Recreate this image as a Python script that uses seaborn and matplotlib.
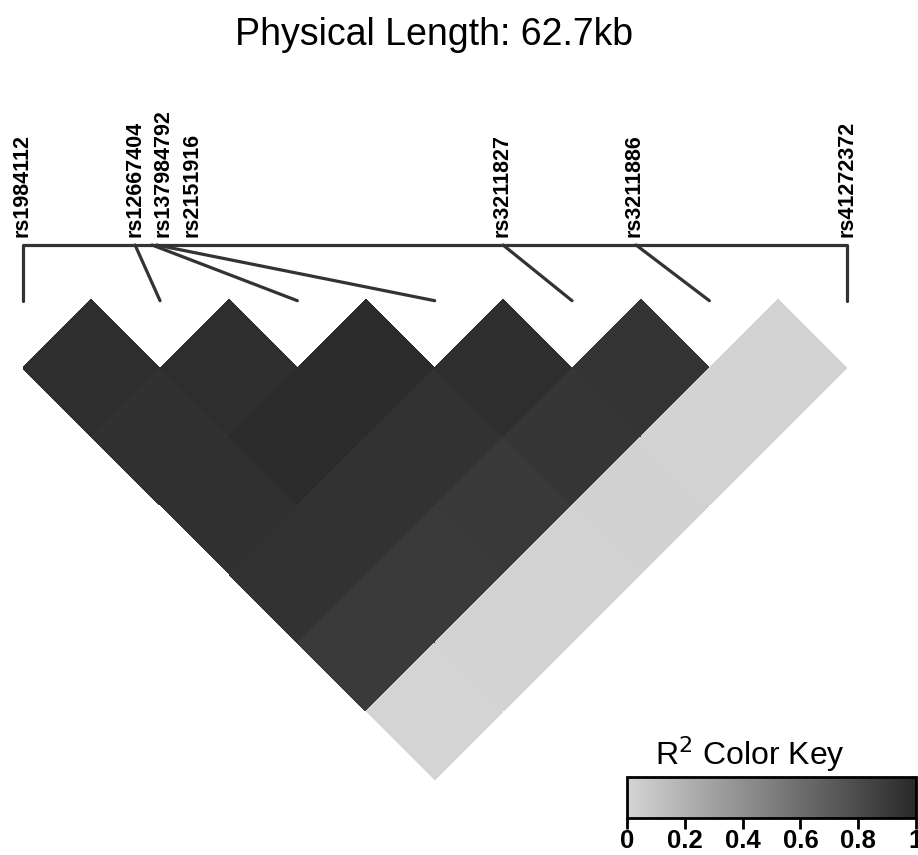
import numpy as np
import pandas as pd
import matplotlib
matplotlib.use("Agg")
import matplotlib.pyplot as plt
import seaborn as sns
from matplotlib.colors import LinearSegmentedColormap
from matplotlib.transforms import Affine2D

# --- data ---
snps = ["rs1984112", "rs12667404", "rs137984792", "rs2151916",
        "rs3211827", "rs3211886", "rs41272372"]
pos_kb = [0.0, 8.55, 9.84, 10.18, 36.55, 46.67, 62.7]
phys_len = 62.7

# pairwise R2, each row = one SNP against the SNPs to its right
r2_rs1984112 = [0.971, 0.953, 0.959, 0.947, 0.895, 0.000]
r2_rs12667404 = [0.965, 0.988, 0.947, 0.900, 0.006]
r2_rs137984792 = [0.988, 0.942, 0.906, 0.006]
r2_rs2151916 = [0.971, 0.924, 0.012]
r2_rs3211827 = [0.936, 0.006]
r2_rs3211886 = [0.006]
r2_rows = [r2_rs1984112, r2_rs12667404, r2_rs137984792,
           r2_rs2151916, r2_rs3211827, r2_rs3211886]

key_ticks = [0, 0.2, 0.4, 0.6, 0.8, 1]
key_labels = ["0", "0.2", "0.4", "0.6", "0.8", "1"]

# label nudges (px) for crowded names
label_nudge = [-1, 0, 11, 36, -1, -2, 0]

# --- build matrix: row i = SNP i, col c = SNP c+1 ---
n = len(snps)
mat = np.full((n - 1, n - 1), np.nan)
for i, row in enumerate(r2_rows):
    for k, v in enumerate(row):
        mat[i, i + k] = v
ld = pd.DataFrame(mat, index=snps[:-1], columns=snps[1:])
mask = np.isnan(mat)

cmap = LinearSegmentedColormap.from_list("ldgrey", ["#d4d4d4", "#292929"])

sns.set_style("white")
plt.rcParams["font.family"] = ["Liberation Sans", "DejaVu Sans"]
plt.rcParams["text.color"] = "black"
plt.rcParams["xtick.color"] = "black"

W, H = 918, 855
fig = plt.figure(figsize=(W / 100, H / 100), dpi=100)
ax = fig.add_axes([0, 0, 1, 1])

# pixel layout -> cell units
s = 137.33
x0_px, y0_px = 22.7, 368.0
def px(x, y):
    return (x - x0_px) / s, (y0_px - y) / s

cax = fig.add_axes([627 / W, (H - 818) / H, (916 - 627) / W, 41 / H])
sns.heatmap(ld, mask=mask, cmap=cmap, vmin=0, vmax=1, ax=ax, cbar_ax=cax,
            linewidths=0, xticklabels=False, yticklabels=False,
            cbar_kws={"orientation": "horizontal", "ticks": key_ticks})

# rotate the heatmap 45 degrees into a triangle
mesh = ax.collections[0]
rot = Affine2D(np.array([[0.5, 0.5, 0], [-0.5, 0.5, 0], [0, 0, 1]]))
mesh.set_transform(rot + ax.transData)

xl0, yt = px(0, 0)
xl1, yb = px(W, H)
ax.set_xlim(xl0, xl1)
ax.set_ylim(yb, yt)
ax.axis("off")

# SNP position line and connectors
line_y = px(0, 245)[1]
peak_y = px(0, 300.7)[1]
xs = [p / phys_len * (n - 1) for p in pos_kb]
ax.plot([xs[0], xs[-1]], [line_y, line_y], color="#333333", lw=2.3,
        solid_capstyle="butt")
for k, x in enumerate(xs):
    ax.plot([x, k], [line_y, peak_y], color="#333333", lw=2.3,
            solid_capstyle="round")

lab_y = px(0, 237)[1]
for k, name in enumerate(snps):
    ax.text(xs[k] + label_nudge[k] / s, lab_y, name, rotation=90,
            ha="center", va="bottom", fontsize=15.5, fontweight="bold",
            color="black")

# title
fig.text(434 / W, (H - 45) / H, "Physical Length: %.1fkb" % phys_len,
         ha="center", va="baseline", fontsize=27, color="black")

# colour key
cbar = mesh.colorbar
cbar.outline.set_linewidth(2)
cbar.outline.set_edgecolor("black")
cax.set_xticks(key_ticks)
cax.set_xticklabels(key_labels, fontweight="bold", fontsize=18.5,
                    color="black")
cax.tick_params(axis="x", length=8, width=2, color="black", pad=0,
                bottom=True)
fig.text(750 / W, (H - 765) / H, "R$^2$ Color Key", ha="center",
         va="baseline", fontsize=23, color="black")

fig.savefig("out.png", dpi=100)
